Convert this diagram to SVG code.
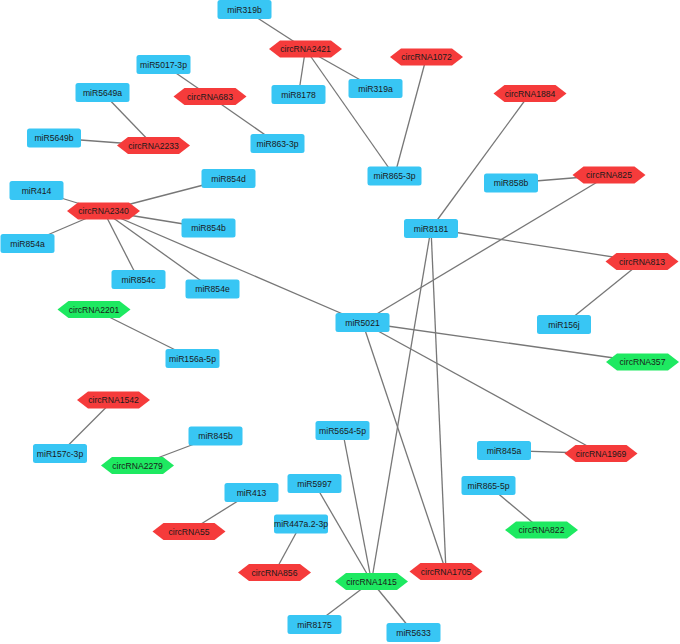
<svg xmlns="http://www.w3.org/2000/svg" xmlns:xlink="http://www.w3.org/1999/xlink" width="680" height="644" viewBox="0 0 680 644">
<style>
.e{stroke:#777;stroke-width:1.3;fill:none}
.mi{fill:#38c6f4}
.red{fill:#f53b3b}
.grn{fill:#1ee961}
text{font-family:"Liberation Sans",Helvetica,Arial,sans-serif;font-size:8.6px;fill:#1a1a1a;text-anchor:middle}
</style>
<defs>
<rect id="box" x="-27" y="-9.5" width="54" height="19" rx="2.5"/>
<polygon id="hex" points="-36.5,0 -25.5,-8.5 25.5,-8.5 36.5,0 25.5,8.5 -25.5,8.5"/>
</defs>
<rect width="680" height="644" fill="#fff"/>
<g id="edges">
<line class="e" x1="244.5" y1="9.5" x2="305.5" y2="49"/>
<line class="e" x1="305.5" y1="49" x2="298.5" y2="94.5"/>
<line class="e" x1="305.5" y1="49" x2="375.5" y2="88.5"/>
<line class="e" x1="305.5" y1="49" x2="394.5" y2="176"/>
<line class="e" x1="426.5" y1="57" x2="394.5" y2="176"/>
<line class="e" x1="163.5" y1="64.5" x2="210" y2="96.5"/>
<line class="e" x1="210" y1="96.5" x2="277.5" y2="143.5"/>
<line class="e" x1="102.5" y1="92.5" x2="153.5" y2="145.5"/>
<line class="e" x1="54" y1="138" x2="153.5" y2="145.5"/>
<line class="e" x1="36.5" y1="190.5" x2="103.5" y2="211"/>
<line class="e" x1="103.5" y1="211" x2="228.5" y2="178.5"/>
<line class="e" x1="103.5" y1="211" x2="27.5" y2="243.5"/>
<line class="e" x1="103.5" y1="211" x2="208.5" y2="228"/>
<line class="e" x1="103.5" y1="211" x2="138.5" y2="279.5"/>
<line class="e" x1="103.5" y1="211" x2="212.5" y2="289"/>
<line class="e" x1="103.5" y1="211" x2="362.5" y2="322.5"/>
<line class="e" x1="530" y1="93.5" x2="431" y2="228.5"/>
<line class="e" x1="511" y1="183" x2="609" y2="175"/>
<line class="e" x1="609" y1="175" x2="362.5" y2="322.5"/>
<line class="e" x1="431" y1="228.5" x2="642" y2="261.5"/>
<line class="e" x1="642" y1="261.5" x2="564" y2="324.5"/>
<line class="e" x1="362.5" y1="322.5" x2="642.5" y2="362"/>
<line class="e" x1="362.5" y1="322.5" x2="601" y2="453.5"/>
<line class="e" x1="504" y1="450.5" x2="601" y2="453.5"/>
<line class="e" x1="362.5" y1="322.5" x2="446" y2="571.5"/>
<line class="e" x1="431" y1="228.5" x2="371.5" y2="581.5"/>
<line class="e" x1="431" y1="228.5" x2="446" y2="571.5"/>
<line class="e" x1="94" y1="309.5" x2="192.5" y2="358.5"/>
<line class="e" x1="113.5" y1="400" x2="60" y2="453.5"/>
<line class="e" x1="215.5" y1="436" x2="137.5" y2="465.5"/>
<line class="e" x1="251.5" y1="492.5" x2="189" y2="531.5"/>
<line class="e" x1="301" y1="524" x2="274.5" y2="572.5"/>
<line class="e" x1="342.5" y1="430.5" x2="371.5" y2="581.5"/>
<line class="e" x1="314.5" y1="483.5" x2="371.5" y2="581.5"/>
<line class="e" x1="371.5" y1="581.5" x2="314.5" y2="624.5"/>
<line class="e" x1="371.5" y1="581.5" x2="413.5" y2="632.5"/>
<line class="e" x1="488.5" y1="485.5" x2="541.5" y2="530"/>
</g>
<g id="n-miR319b"><use xlink:href="#box" class="mi" x="244.5" y="9.5"/><text x="244.5" y="12.5">miR319b</text></g>
<g id="n-miR8178"><use xlink:href="#box" class="mi" x="298.5" y="94.5"/><text x="298.5" y="97.5">miR8178</text></g>
<g id="n-miR319a"><use xlink:href="#box" class="mi" x="375.5" y="88.5"/><text x="375.5" y="91.5">miR319a</text></g>
<g id="n-miR5017-3p"><use xlink:href="#box" class="mi" x="163.5" y="64.5"/><text x="163.5" y="67.5">miR5017-3p</text></g>
<g id="n-miR5649a"><use xlink:href="#box" class="mi" x="102.5" y="92.5"/><text x="102.5" y="95.5">miR5649a</text></g>
<g id="n-miR5649b"><use xlink:href="#box" class="mi" x="54" y="138"/><text x="54" y="141">miR5649b</text></g>
<g id="n-miR863-3p"><use xlink:href="#box" class="mi" x="277.5" y="143.5"/><text x="277.5" y="146.5">miR863-3p</text></g>
<g id="n-miR865-3p"><use xlink:href="#box" class="mi" x="394.5" y="176"/><text x="394.5" y="179">miR865-3p</text></g>
<g id="n-miR414"><use xlink:href="#box" class="mi" x="36.5" y="190.5"/><text x="36.5" y="193.5">miR414</text></g>
<g id="n-miR854d"><use xlink:href="#box" class="mi" x="228.5" y="178.5"/><text x="228.5" y="181.5">miR854d</text></g>
<g id="n-miR858b"><use xlink:href="#box" class="mi" x="511" y="183"/><text x="511" y="186">miR858b</text></g>
<g id="n-miR8181"><use xlink:href="#box" class="mi" x="431" y="228.5"/><text x="431" y="231.5">miR8181</text></g>
<g id="n-miR854a"><use xlink:href="#box" class="mi" x="27.5" y="243.5"/><text x="27.5" y="246.5">miR854a</text></g>
<g id="n-miR854b"><use xlink:href="#box" class="mi" x="208.5" y="228"/><text x="208.5" y="231">miR854b</text></g>
<g id="n-miR854c"><use xlink:href="#box" class="mi" x="138.5" y="279.5"/><text x="138.5" y="282.5">miR854c</text></g>
<g id="n-miR854e"><use xlink:href="#box" class="mi" x="212.5" y="289"/><text x="212.5" y="292">miR854e</text></g>
<g id="n-miR5021"><use xlink:href="#box" class="mi" x="362.5" y="322.5"/><text x="362.5" y="325.5">miR5021</text></g>
<g id="n-miR156j"><use xlink:href="#box" class="mi" x="564" y="324.5"/><text x="564" y="327.5">miR156j</text></g>
<g id="n-miR156a-5p"><use xlink:href="#box" class="mi" x="192.5" y="358.5"/><text x="192.5" y="361.5">miR156a-5p</text></g>
<g id="n-miR845b"><use xlink:href="#box" class="mi" x="215.5" y="436"/><text x="215.5" y="439">miR845b</text></g>
<g id="n-miR157c-3p"><use xlink:href="#box" class="mi" x="60" y="453.5"/><text x="60" y="456.5">miR157c-3p</text></g>
<g id="n-miR5654-5p"><use xlink:href="#box" class="mi" x="342.5" y="430.5"/><text x="342.5" y="433.5">miR5654-5p</text></g>
<g id="n-miR845a"><use xlink:href="#box" class="mi" x="504" y="450.5"/><text x="504" y="453.5">miR845a</text></g>
<g id="n-miR5997"><use xlink:href="#box" class="mi" x="314.5" y="483.5"/><text x="314.5" y="486.5">miR5997</text></g>
<g id="n-miR413"><use xlink:href="#box" class="mi" x="251.5" y="492.5"/><text x="251.5" y="495.5">miR413</text></g>
<g id="n-miR865-5p"><use xlink:href="#box" class="mi" x="488.5" y="485.5"/><text x="488.5" y="488.5">miR865-5p</text></g>
<g id="n-miR447a.2-3p"><use xlink:href="#box" class="mi" x="301" y="524"/><text x="301" y="527">miR447a.2-3p</text></g>
<g id="n-miR8175"><use xlink:href="#box" class="mi" x="314.5" y="624.5"/><text x="314.5" y="627.5">miR8175</text></g>
<g id="n-miR5633"><use xlink:href="#box" class="mi" x="413.5" y="632.5"/><text x="413.5" y="635.5">miR5633</text></g>
<g id="n-circRNA2421"><use xlink:href="#hex" class="red" x="305.5" y="49"/><text x="305.5" y="52">circRNA2421</text></g>
<g id="n-circRNA1072"><use xlink:href="#hex" class="red" x="426.5" y="57"/><text x="426.5" y="60">circRNA1072</text></g>
<g id="n-circRNA683"><use xlink:href="#hex" class="red" x="210" y="96.5"/><text x="210" y="99.5">circRNA683</text></g>
<g id="n-circRNA2233"><use xlink:href="#hex" class="red" x="153.5" y="145.5"/><text x="153.5" y="148.5">circRNA2233</text></g>
<g id="n-circRNA1884"><use xlink:href="#hex" class="red" x="530" y="93.5"/><text x="530" y="96.5">circRNA1884</text></g>
<g id="n-circRNA825"><use xlink:href="#hex" class="red" x="609" y="175"/><text x="609" y="178">circRNA825</text></g>
<g id="n-circRNA2340"><use xlink:href="#hex" class="red" x="103.5" y="211"/><text x="103.5" y="214">circRNA2340</text></g>
<g id="n-circRNA813"><use xlink:href="#hex" class="red" x="642" y="261.5"/><text x="642" y="264.5">circRNA813</text></g>
<g id="n-circRNA1542"><use xlink:href="#hex" class="red" x="113.5" y="400"/><text x="113.5" y="403">circRNA1542</text></g>
<g id="n-circRNA1969"><use xlink:href="#hex" class="red" x="601" y="453.5"/><text x="601" y="456.5">circRNA1969</text></g>
<g id="n-circRNA55"><use xlink:href="#hex" class="red" x="189" y="531.5"/><text x="189" y="534.5">circRNA55</text></g>
<g id="n-circRNA856"><use xlink:href="#hex" class="red" x="274.5" y="572.5"/><text x="274.5" y="575.5">circRNA856</text></g>
<g id="n-circRNA1705"><use xlink:href="#hex" class="red" x="446" y="571.5"/><text x="446" y="574.5">circRNA1705</text></g>
<g id="n-circRNA2201"><use xlink:href="#hex" class="grn" x="94" y="309.5"/><text x="94" y="312.5">circRNA2201</text></g>
<g id="n-circRNA357"><use xlink:href="#hex" class="grn" x="642.5" y="362"/><text x="642.5" y="365">circRNA357</text></g>
<g id="n-circRNA2279"><use xlink:href="#hex" class="grn" x="137.5" y="465.5"/><text x="137.5" y="468.5">circRNA2279</text></g>
<g id="n-circRNA822"><use xlink:href="#hex" class="grn" x="541.5" y="530"/><text x="541.5" y="533">circRNA822</text></g>
<g id="n-circRNA1415"><use xlink:href="#hex" class="grn" x="371.5" y="581.5"/><text x="371.5" y="584.5">circRNA1415</text></g>
</svg>
